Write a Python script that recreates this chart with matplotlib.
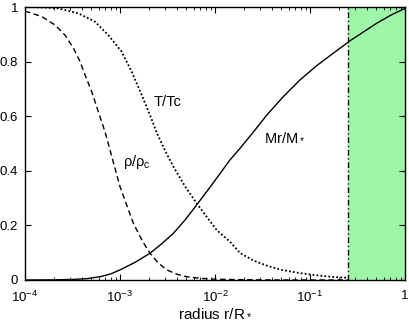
import numpy as np
import matplotlib
matplotlib.use("Agg")
import matplotlib.pyplot as plt

plt.rcParams['font.family'] = ['Liberation Sans', 'DejaVu Sans']
plt.rcParams['mathtext.fontset'] = 'custom'
plt.rcParams['mathtext.rm'] = 'Liberation Sans'
plt.rcParams['mathtext.it'] = 'Liberation Sans'

# log10(r/R*) and profiles
rho_logr = [-4.0, -3.824, -3.684, -3.579, -3.49, -3.42, -3.368, -3.298, -3.228, -3.158,
            -3.105, -3.0, -2.86, -2.76, -2.684, -2.6, -2.508, -2.4, -2.298, -2.15,
            -2.0, -1.7, -1.3, -0.9, -0.6]
rho = [0.985, 0.965, 0.934, 0.897, 0.849, 0.80, 0.751, 0.69, 0.616, 0.543,
       0.476, 0.342, 0.208, 0.14, 0.098, 0.063, 0.037, 0.021, 0.012, 0.006,
       0.003, 0.001, 0.0, 0.0, 0.0]

T_logr = [-4.0, -3.8, -3.65, -3.44, -3.263, -3.123, -2.982, -2.877, -2.772, -2.684,
          -2.614, -2.52, -2.438, -2.31, -2.193, -2.08, -1.982, -1.842, -1.737, -1.6,
          -1.45, -1.3, -1.1, -0.9, -0.75, -0.6]
T = [1.0, 0.998, 0.995, 0.977, 0.946, 0.897, 0.836, 0.763, 0.678, 0.604,
     0.54, 0.47, 0.415, 0.34, 0.281, 0.228, 0.183, 0.14, 0.099, 0.072,
     0.052, 0.037, 0.025, 0.016, 0.011, 0.008]

M_logr = [-4.0, -3.7, -3.5, -3.35, -3.21, -3.1, -3.0, -2.84, -2.684, -2.56, -2.438,
          -2.31, -2.193, -2.02, -1.842, -1.737, -1.58, -1.453, -1.28, -1.105,
          -0.93, -0.758, -0.58, -0.44, -0.3, -0.15, 0.0]
M = [0.0, 0.0005, 0.002, 0.005, 0.012, 0.022, 0.037, 0.065, 0.098, 0.133, 0.171,
     0.222, 0.275, 0.355, 0.44, 0.482, 0.549, 0.605, 0.672, 0.733,
     0.785, 0.83, 0.876, 0.908, 0.94, 0.97, 0.995]

r_shell = 0.25
xticks = [1e-4, 1e-3, 1e-2, 1e-1, 1]
xticklabels = [r'10$^{-4}$', r'10$^{-3}$', r'10$^{-2}$', r'10$^{-1}$', '1']
yticks = [0, 0.2, 0.4, 0.6, 0.8, 1]
yticklabels = ['0', '0.2', '0.4', '0.6', '0.8', '1']

W, H = 409, 327
fig = plt.figure(figsize=(W / 100, H / 100), dpi=100)
ax = fig.add_axes([25 / W, 47 / H, 380 / W, 273 / H])

ax.axvspan(r_shell, 1, color='#9ef7a8', lw=0, zorder=0)
ax.axvline(r_shell, color='black', lw=1.0, dashes=(4, 2, 1, 2))

ax.plot(10 ** np.array(rho_logr), rho, color='black', lw=1.0, ls=(0, (4, 2.5)))
ax.plot(10 ** np.array(T_logr), T, color='black', lw=1.3, ls=(0, (1, 1.2)))
ax.plot(10 ** np.array(M_logr), M, color='black', lw=1.0)

ax.set_xscale('log')
ax.set_xlim(1e-4, 1)
ax.set_ylim(0, 1)
ax.set_xticks(xticks)
ax.set_xticklabels(xticklabels)
ax.set_yticks(yticks)
ax.set_yticklabels(yticklabels)
ax.tick_params(which='both', direction='in', top=True, right=True, labelsize=9.5)
ax.tick_params(axis='x', pad=7)
ax.tick_params(axis='y', pad=5)
ax.tick_params(which='major', length=4)
ax.tick_params(which='minor', length=2)
for s in ax.spines.values():
    s.set_linewidth(1.0)


def label(x, y, s):
    # position given in picture pixels from the top-left corner
    fig.text(x / W, 1 - y / H, s, fontsize=10.5, ha='center', va='center')


label(168, 102, 'T/Tc')
label(137, 162, r'$\rho$/$\rho_\mathrm{c}$')
label(285, 137, r'Mr/M$_*$')

ax.set_xlabel(r'radius r/R$_*$', fontsize=11, labelpad=1)

fig.savefig('out.png', dpi=100)
